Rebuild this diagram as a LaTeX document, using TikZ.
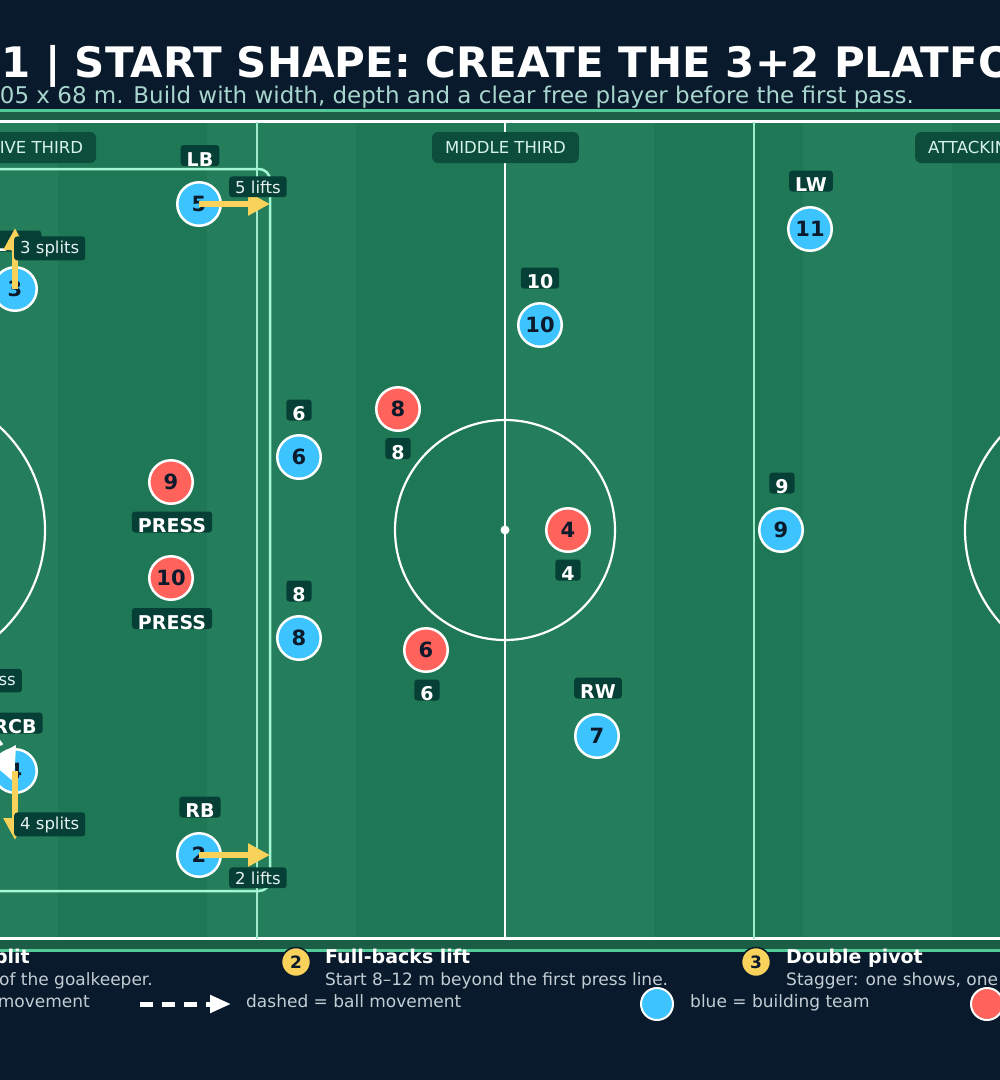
\documentclass[tikz,border=0pt]{standalone}
\usepackage{fontspec}
\setmainfont{DejaVu Sans}
\usetikzlibrary{arrows.meta}
\definecolor{navy}{HTML}{081A2B}
\definecolor{bandline}{HTML}{52C996}
\definecolor{banddark}{HTML}{1B5E45}
\definecolor{stripeA}{HTML}{247E5B}
\definecolor{stripeB}{HTML}{1F7855}
\definecolor{thirdline}{HTML}{A0ECCA}
\definecolor{zoneline}{HTML}{A3F7D3}
\definecolor{zonebox}{HTML}{0C4E3B}
\definecolor{zonetext}{HTML}{D6F3E8}
\definecolor{lblbox}{HTML}{063F35}
\definecolor{mtext}{HTML}{E4F1EE}
\definecolor{pblue}{HTML}{3DC3FD}
\definecolor{pred}{HTML}{FF635B}
\definecolor{numc}{HTML}{0B1B2C}
\definecolor{arrowy}{HTML}{F8D25A}
\definecolor{subc}{HTML}{A8D5CD}
\definecolor{legc}{HTML}{C3CDD4}
\begin{document}
\begin{tikzpicture}[x=1pt,y=-1pt,
  player/.style={circle, minimum size=43.5pt, inner sep=0pt, line width=2.5pt, draw=white,
    text=numc, font=\bfseries\fontsize{21}{21}\selectfont},
  bluep/.style={player, fill=pblue},
  redp/.style={player, fill=pred},
  lbl/.style={fill=lblbox, text=white, rounded corners=3pt, inner xsep=6pt, inner ysep=0pt,
    text height=21pt, text depth=0pt, font=\bfseries\fontsize{19}{19}\selectfont},
  mlbl/.style={fill=lblbox, text=mtext, rounded corners=3pt, inner xsep=6pt, inner ysep=4pt,
    font=\fontsize{16.5}{16.5}\selectfont},
  zlbl/.style={fill=zonebox, text=zonetext, rounded corners=6pt, minimum height=31pt, inner xsep=13pt,
    inner ysep=0pt, font=\fontsize{16.5}{16.5}\selectfont},
  yarrow/.style={draw=arrowy, line width=6pt, -{Triangle[length=22pt,width=22pt,fill=arrowy]}},
  legtxt/.style={inner sep=0pt, text=legc, font=\fontsize{17}{17}\selectfont},
  leghead/.style={inner sep=0pt, text=white, font=\bfseries\fontsize{19}{19}\selectfont},
  legnum/.style={circle, fill=arrowy, draw=navy, line width=1.5pt, minimum size=29pt, inner sep=0pt,
    text=numc, font=\bfseries\fontsize{17}{17}\selectfont},
  legdot/.style={circle, draw=white, line width=2pt, minimum size=32pt, inner sep=0pt}
]
\useasboundingbox (0,0) rectangle (1000,1080);
\clip (0,0) rectangle (1000,1080);
\fill[navy] (0,0) rectangle (1000,1080);

% title
\node[anchor=base west, inner sep=0pt, text=white, font=\bfseries\fontsize{42}{42}\selectfont] (title) at (1,77) {1 | START SHAPE: CREATE THE 3+2 PLATFORM};
\node[anchor=base east, inner sep=0pt, text=subc, font=\fontsize{23}{23}\selectfont] (subtitle) at (914,103) {105 x 68 m. Build with width, depth and a clear free player before the first pass.};

% bands
\fill[bandline] (-10,109) rectangle (1010,951.5);
\fill[banddark] (-10,112) rectangle (1010,948.5);
% stripes
\foreach \k in {0,2,4,6} {\fill[stripeA] ({-91+149*\k},121.5) rectangle ({58+149*\k},938.5);}
\foreach \k in {1,3,5,7} {\fill[stripeB] ({-91+149*\k},121.5) rectangle ({58+149*\k},938.5);}
% lines
\draw[white, line width=3pt] (-300,121.5) rectangle (1300,938.5);
\draw[thirdline, line width=1.6pt] (257,121.5) -- (257,938.5);
\draw[thirdline, line width=1.6pt] (754,121.5) -- (754,938.5);
\draw[white, line width=2.5pt] (505,121.5) -- (505,938.5);
\draw[white, line width=2.2pt] (505,530) circle (110);
\fill[white] (505,530) circle (4.5);
\draw[white, line width=2.2pt] (-95,530) circle (140);
\draw[white, line width=2.2pt] (1105,530) circle (140);

% highlighted zone
\draw[zoneline, line width=2.5pt, rounded corners=11pt] (-40,169) rectangle (270,891);

% zone labels
\node[zlbl] (zdef) at (8.5,147.5) {DEFENSIVE THIRD};
\node[zlbl] (zmid) at (505.5,147.5) {MIDDLE THIRD};
\node[zlbl] (zatt) at (1002.5,147.5) {ATTACKING THIRD};

% blue team
\node[bluep] (p5) at (199,204) {5};
\node[lbl] (l5) at (200,155.5) {LB};
\node[bluep] (p3) at (15,289) {3};
\node[lbl] (l3) at (15,241) {LCB};
\node[bluep] (p4) at (15,771) {4};
\node[lbl] (l4) at (15,723) {RCB};
\node[bluep] (p2) at (199,855) {2};
\node[lbl] (l2) at (200,807) {RB};
\node[bluep] (p6) at (299,457) {6};
\node[lbl] (l6) at (299,410) {6};
\node[bluep] (p8) at (299,638) {8};
\node[lbl] (l8) at (299,591) {8};
\node[bluep] (p10) at (540,325) {10};
\node[lbl] (l10) at (540,278) {10};
\node[bluep] (p11) at (810,229) {11};
\node[lbl] (l11) at (811,181) {LW};
\node[bluep] (p9) at (781,530) {9};
\node[lbl] (l9) at (782,483) {9};
\node[bluep] (p7) at (597,736) {7};
\node[lbl] (l7) at (598,688) {RW};

% red team
\node[redp] (r9) at (171,482) {9};
\node[lbl] (lr9) at (172,522) {PRESS};
\node[redp] (r10) at (171,578) {10};
\node[lbl] (lr10) at (172,618.5) {PRESS};
\node[redp] (r8) at (398,409) {8};
\node[lbl] (lr8) at (398,448.5) {8};
\node[redp] (r4) at (568,530) {4};
\node[lbl] (lr4) at (568,570) {4};
\node[redp] (r6) at (426,650) {6};
\node[lbl] (lr6) at (427,690) {6};

% ball movement tip reaching RCB
\fill[white] (16,745) -- (-12,760) -- (14,782) -- cycle;
\draw[white, line width=3pt] (-4,737) -- (2,745);

% player movements
\coordinate (t5) at (270,204);
\coordinate (t2) at (270,855);
\coordinate (t3) at (15,228);
\coordinate (t4) at (15,840);
\draw[yarrow] (p5.center) -- (t5);
\draw[yarrow] (p2.center) -- (t2);
\draw[yarrow] (p3.center) -- (t3);
\draw[yarrow] (p4.center) -- (t4);

\node[mlbl, anchor=base west] (m5) at (229,193) {5 lifts};
\node[mlbl, anchor=base west] (m2) at (229,884) {2 lifts};
\node[mlbl, anchor=base west] (m3) at (14,253) {3 splits};
\node[mlbl, anchor=base west] (m4) at (14,829) {4 splits};
\node[mlbl, anchor=base east] (mgk) at (22,685) {GK pass};

% legend
\node[leghead, anchor=base east] (h1) at (30,963) {Centre-backs split};
\node[legtxt, anchor=base east] (d1) at (153,985) {Open either side of the goalkeeper.};
\node[legtxt, anchor=base east] (k1) at (90,1007) {solid = player movement};

\node[legnum] (n2) at (296,962) {2};
\node[leghead, anchor=base west] (h2) at (325,963) {Full-backs lift};
\node[legtxt, anchor=base west] (d2) at (325,985) {Start 8–12 m beyond the first press line.};

\node[legnum] (n3) at (756,962) {3};
\node[leghead, anchor=base west] (h3) at (786,963) {Double pivot};
\node[legtxt, anchor=base west] (d3) at (786,985) {Stagger: one shows, one screens.};

\coordinate (la) at (140,1004);
\coordinate (lb) at (231,1004);
\draw[white, line width=5pt, dash pattern=on 13pt off 9pt, -{Triangle[length=21pt,width=17pt,fill=white]}] (la) -- (lb);
\node[legtxt, anchor=base west] (k2) at (246,1007) {dashed = ball movement};

\node[legdot, fill=pblue] (kb) at (657,1004) {};
\node[legtxt, anchor=base west] (k3) at (690,1007) {blue = building team};
\node[legdot, fill=pred] (kr) at (987,1004) {};
\end{tikzpicture}
\end{document}
